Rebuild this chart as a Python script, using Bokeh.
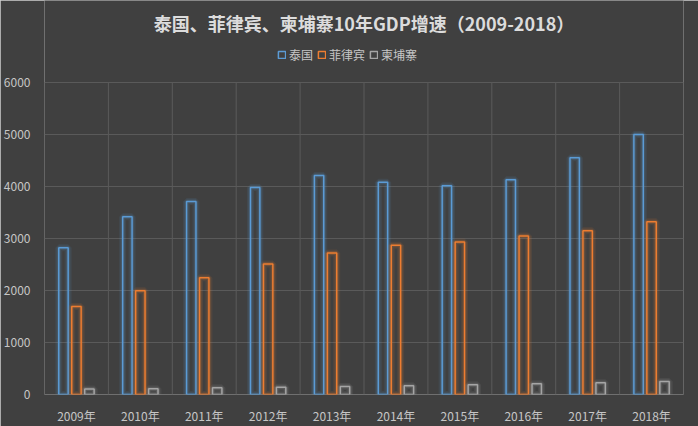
from bokeh.plotting import figure
from bokeh.models import ColumnDataSource, FixedTicker, Label, Legend, LegendItem
from bokeh.embed import file_html
from bokeh.resources import INLINE

years = ["2009年", "2010年", "2011年", "2012年", "2013年", "2014年", "2015年", "2016年", "2017年", "2018年"]
thailand = [2820, 3420, 3710, 3980, 4210, 4080, 4015, 4130, 4555, 5000]
philippines = [1690, 1995, 2245, 2510, 2720, 2870, 2935, 3050, 3150, 3320]
cambodia = [104, 112, 128, 140, 152, 167, 186, 208, 228, 248]

series_names = ["泰国", "菲律宾", "柬埔寨"]
series_values = [thailand, philippines, cambodia]
colors = ["#5B9BD5", "#ED7D31", "#A5A5A5"]
offsets = [-0.203, 0.0, 0.203]
bar_w = 0.147
y_ticks = [0, 1000, 2000, 3000, 4000, 5000, 6000]

BG = "#404040"
FONT = "Noto Sans CJK SC"
Y_MAX = 6000
# frame extends up to the top of the canvas so that title & legend are inside it
Y_TOP = 394 / 52 * 1000

p = figure(width=698, height=426, output_backend="svg", toolbar_location=None,
           x_range=(0, len(years)), y_range=(0, Y_TOP),
           min_border_left=43, min_border_right=15, min_border_top=0, min_border_bottom=32)
p.background_fill_color = BG
p.border_fill_color = BG
p.outline_line_color = None
p.styles = {"outline": "1px solid #d0d0d0", "outline-offset": "-1px"}

centers = [i + 0.5 for i in range(len(years))]

p.xaxis.ticker = FixedTicker(ticks=centers)
p.xaxis.major_label_overrides = {c: y for c, y in zip(centers, years)}
p.yaxis.ticker = FixedTicker(ticks=y_ticks)
for ax in (p.xaxis, p.yaxis):
    ax.axis_line_color = None
    ax.major_tick_line_color = None
    ax.minor_tick_line_color = None
    ax.major_label_text_color = "#c6c6c6"
    ax.major_label_text_font = FONT
    ax.major_label_text_font_size = "12px"
p.yaxis.major_label_standoff = 8
p.xaxis.major_label_standoff = 6

p.xgrid.visible = False
p.ygrid.ticker = FixedTicker(ticks=y_ticks)
p.ygrid.grid_line_color = "#5a5a5a"
p.ygrid.grid_line_width = 1

bounds = list(range(len(years) + 1))
p.segment(x0=bounds, y0=[0] * len(bounds), x1=bounds, y1=[Y_MAX] * len(bounds),
          line_color="#5a5a5a", line_width=1)

items = []
for name, vals, col, off in zip(series_names, series_values, colors, offsets):
    src = ColumnDataSource(dict(x=[c + off for c in centers], top=vals))
    p.vbar(x="x", top="top", bottom=0, width=bar_w, source=src, fill_color=None,
           line_color=col, line_width=7, line_alpha=0.10)
    p.vbar(x="x", top="top", bottom=0, width=bar_w, source=src, fill_color=None,
           line_color=col, line_width=4, line_alpha=0.18)
    r = p.vbar(x="x", top="top", bottom=0, width=bar_w, source=src, fill_color=BG,
               fill_alpha=0.0, line_color=col, line_width=1.5)
    items.append(LegendItem(label=name, renderers=[r]))

legend = Legend(items=items, orientation="horizontal", location=(233, 331),
                background_fill_alpha=0, border_line_color=None,
                label_text_color="#c6c6c6", label_text_font=FONT,
                label_text_font_size="12px", glyph_width=9, glyph_height=9,
                label_standoff=3, spacing=4, padding=0, margin=0)
p.add_layout(legend)

title = Label(x=len(years) / 2, y=(394 - 22) / 52 * 1000,
              text="泰国、菲律宾、柬埔寨10年GDP增速（2009-2018）",
              text_align="center", text_baseline="middle", text_color="#dcdcdc",
              text_font=FONT, text_font_size="18px", text_font_style="bold")
p.add_layout(title)

open("out.html", "w").write(file_html(p, INLINE))
